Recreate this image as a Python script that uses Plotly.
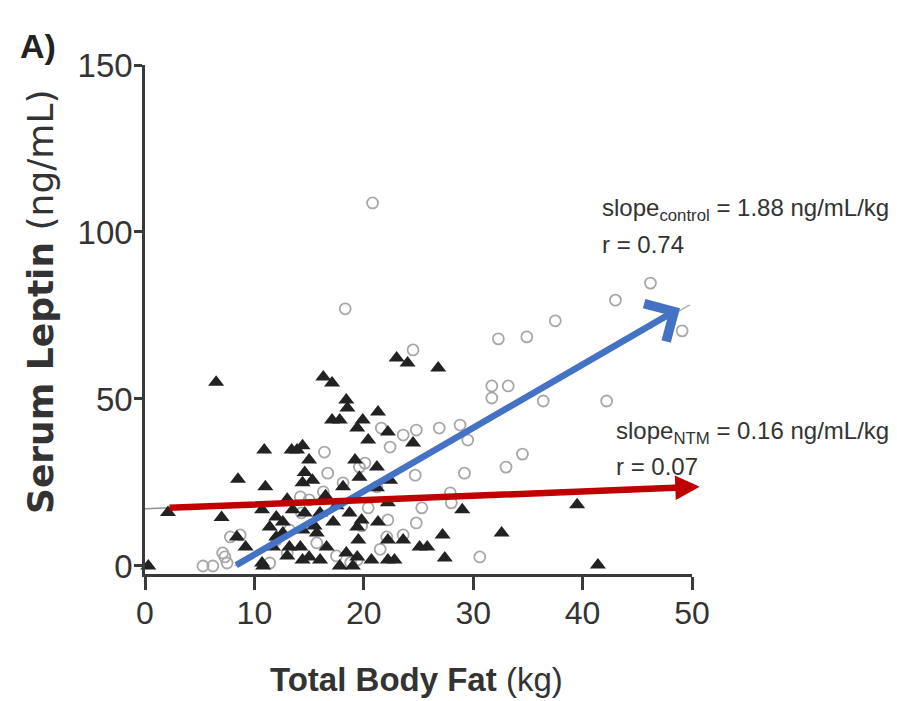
import plotly.graph_objects as go

# ---------------- data ----------------
ntm_fat = [0.3, 2.1, 6.5, 7.0, 8.5, 8.4, 9.2, 10.8, 10.9, 11.0, 10.7, 10.7, 11.4, 11.7,
           12.0, 12.0, 12.6, 12.6, 13.2, 13.4, 13.9, 14.4, 13.5, 14.4, 14.2, 14.4, 14.6,
           14.6, 14.4, 15.0, 15.3, 15.7, 15.0, 16.0, 16.0, 16.3, 16.6, 17.1, 17.1, 17.8,
           17.2, 17.8, 18.4, 18.5, 18.1, 18.4, 18.7, 19.0, 19.4, 19.2, 19.4, 19.4, 19.5,
           19.6, 19.8, 19.9, 20.4, 20.7, 21.2, 21.2, 21.3, 21.3, 22.2, 22.4, 22.2, 22.2,
           22.2, 22.8, 23.0, 23.6, 24.0, 24.5, 25.1, 25.8, 26.8, 27.2, 27.4, 29.0, 32.6,
           39.5, 41.4, 13.0, 16.5, 17.5, 13.0, 15.5]
ntm_leptin = [0.0, 16.0, 55.0, 14.5, 26.0, 8.7, 5.7, 0.0, 34.7, 23.7, 16.8, 0.9, 11.7, 5.7,
              14.7, 8.7, 13.2, 9.9, 5.7, 34.7, 34.7, 36.0, 16.8, 10.8, 5.7, 24.9, 28.0,
              15.9, 1.8, 31.7, 25.7, 9.9, 2.7, 15.9, 1.8, 56.6, 5.7, 54.8, 43.7, 43.7,
              13.2, 0.0, 49.7, 47.3, 23.7, 3.9, 15.9, 0.0, 41.3, 31.7, 11.7, 2.7, 7.8,
              26.6, 13.8, 43.7, 37.7, 1.8, 29.6, 23.4, 46.1, 13.2, 40.1, 25.7, 18.9, 7.8,
              1.8, 1.8, 62.3, 7.8, 60.8, 36.8, 5.7, 5.7, 59.3, 9.3, 2.4, 16.8, 9.9,
              18.3, 0.3, 20.0, 21.0, 18.0, 3.0, 12.0]

ctrl_fat = [5.3, 6.2, 7.5, 7.1, 7.3, 7.8, 8.7, 11.4, 12.0, 13.0, 13.2, 14.2, 15.0, 14.3,
            15.7, 16.3, 16.4, 16.7, 18.1, 18.3, 18.8, 19.4, 19.6, 20.1, 20.4, 20.8, 21.2,
            21.6, 22.1, 22.2, 22.4, 23.6, 23.6, 24.5, 24.7, 24.8, 24.8, 25.3, 26.9, 27.9,
            28.0, 28.8, 29.2, 29.5, 30.6, 31.7, 31.7, 32.3, 33.0, 33.2, 34.5, 34.9, 36.4,
            37.5, 42.2, 43.0, 46.2, 49.1, 21.5, 19.8, 17.5]
ctrl_leptin = [0.0, 0.0, 0.9, 3.9, 2.7, 8.7, 9.3, 0.9, 7.8, 3.9, 10.8, 20.7, 19.8, 15.9,
               6.9, 22.2, 34.1, 27.8, 24.9, 77.0, 1.0, 1.8, 29.6, 30.8, 17.4, 108.7, 23.7,
               41.3, 8.7, 13.8, 35.6, 39.2, 9.3, 64.7, 27.2, 40.7, 12.9, 17.4, 41.3, 21.9,
               18.9, 42.2, 27.8, 37.7, 2.7, 53.9, 50.3, 68.0, 29.6, 53.9, 33.5, 68.6, 49.4,
               73.4, 49.4, 79.6, 84.7, 70.4, 5.0, 12.0, 3.0]

x_ticks = [0, 10, 20, 30, 40, 50]
y_ticks = [0, 50, 100, 150]

# regression fits (thin grey lines in the original)
ctrl_fit_x = [8.2, 49.8]
ctrl_fit_y = [0.0, 78.2]
ntm_fit_x = [0.0, 50.0]
ntm_fit_y = [17.1, 23.6]

# highlight arrows: tail -> head
blue_tail, blue_head = (8.2, 0.0), (48.9, 77.2)
red_tail, red_head = (2.1, 17.4), (50.7, 23.7)

# ---------------- style ----------------
FONT = "Liberation Sans, Arial, sans-serif"
AX = "#3a3a3a"
TXT = "#333333"

W, H = 897, 701
ML, MR, MT, MB = 145, 205, 65, 127
PW, PH = W - ML - MR, H - MT - MB


def px(xp):
    return (xp - ML) / PW


def py(yp):
    return (H - MB - yp) / PH


fig = go.Figure()

fig.add_trace(go.Scatter(x=ctrl_fit_x, y=ctrl_fit_y, mode="lines",
                         line=dict(color="#b0b0b0", width=1.5), hoverinfo="skip"))
fig.add_trace(go.Scatter(x=ntm_fit_x, y=ntm_fit_y, mode="lines",
                         line=dict(color="#909090", width=1.5), hoverinfo="skip"))

fig.add_trace(go.Scatter(
    x=ctrl_fat, y=ctrl_leptin, mode="markers", name="Control",
    marker=dict(symbol="circle-open", size=11, color="#a8a8a8",
                line=dict(width=1.8, color="#a8a8a8")),
    cliponaxis=False))
fig.add_trace(go.Scatter(
    x=ntm_fat, y=ntm_leptin, mode="markers", name="NTM",
    marker=dict(symbol="triangle-up", size=14, color="#222222"),
    cliponaxis=False))

ann = []
# arrows
ann.append(dict(x=blue_head[0], y=blue_head[1], ax=blue_tail[0], ay=blue_tail[1],
                xref="x", yref="y", axref="x", ayref="y", text="", showarrow=True,
                arrowhead=4, arrowsize=1.3, arrowwidth=6.5, arrowcolor="#4472C4"))
ann.append(dict(x=red_head[0], y=red_head[1], ax=red_tail[0], ay=red_tail[1],
                xref="x", yref="y", axref="x", ayref="y", text="", showarrow=True,
                arrowhead=2, arrowsize=0.75, arrowwidth=6.5, arrowcolor="#C00000"))

# slope texts
TS = 24
ann.append(dict(x=px(600), y=py(210), xref="paper", yref="paper", xanchor="left",
                yanchor="middle", showarrow=False,
                text="slope<sub>control</sub> = 1.88 ng/mL/kg",
                font=dict(family=FONT, size=TS, color=TXT)))
ann.append(dict(x=px(600), y=py(244), xref="paper", yref="paper", xanchor="left",
                yanchor="middle", showarrow=False, text="r = 0.74",
                font=dict(family=FONT, size=TS, color=TXT)))
ann.append(dict(x=px(614), y=py(432), xref="paper", yref="paper", xanchor="left",
                yanchor="middle", showarrow=False,
                text="slope<sub>NTM</sub> = 0.16 ng/mL/kg",
                font=dict(family=FONT, size=TS, color=TXT)))
ann.append(dict(x=px(614), y=py(466), xref="paper", yref="paper", xanchor="left",
                yanchor="middle", showarrow=False, text="r = 0.07",
                font=dict(family=FONT, size=TS, color=TXT)))

# axis titles
ann.append(dict(x=px(40), y=py(302), xref="paper", yref="paper", textangle=-90,
                xanchor="center", yanchor="middle", showarrow=False,
                text="<b>Serum Leptin</b> (ng/mL)",
                font=dict(family="DejaVu Sans", size=36, color=TXT)))
ann.append(dict(x=px(416), y=py(679), xref="paper", yref="paper",
                xanchor="center", yanchor="middle", showarrow=False,
                text="<b>Total Body Fat</b> (kg)",
                font=dict(family=FONT, size=33, color=TXT)))
# panel label
ann.append(dict(x=px(38), y=py(46), xref="paper", yref="paper",
                xanchor="center", yanchor="middle", showarrow=False,
                text="<b>A)</b>", font=dict(family=FONT, size=34, color="#222")))

fig.update_layout(
    width=W, height=H,
    margin=dict(l=ML, r=MR, t=MT, b=MB),
    paper_bgcolor="white", plot_bgcolor="white",
    showlegend=False,
    annotations=ann,
    xaxis=dict(range=[0, 50], tickvals=x_ticks, showline=True, linecolor=AX, linewidth=2.5,
               ticks="outside", ticklen=13, tickwidth=2.5, tickcolor=AX,
               ticklabelstandoff=-4,
               tickfont=dict(family=FONT, size=32, color=TXT),
               showgrid=False, zeroline=False),
    yaxis=dict(range=[-2.4, 150], tickvals=y_ticks, showline=True, linecolor=AX, linewidth=2.5,
               ticks="outside", ticklen=8, tickwidth=2.5, tickcolor=AX,
               ticklabelstandoff=-5,
               tickfont=dict(family=FONT, size=33, color=TXT),
               showgrid=False, zeroline=False),
)

fig.write_html("out.html")
